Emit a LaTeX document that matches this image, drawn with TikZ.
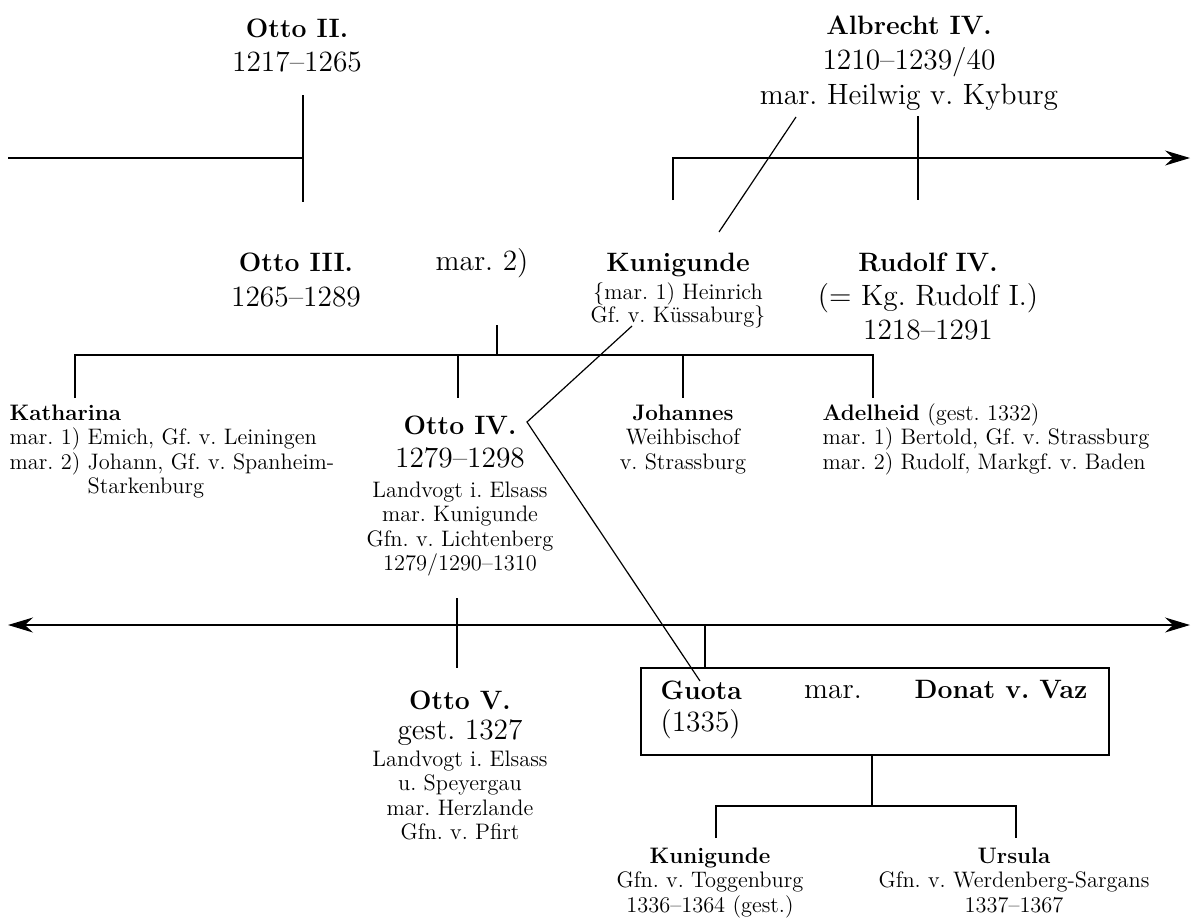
\documentclass[tikz,border=0pt]{standalone}
\usetikzlibrary{positioning}
\usetikzlibrary{arrows.meta}

\newcommand{\nmfont}{\fontsize{13.3}{16}\selectfont\bfseries}
\newcommand{\bgfont}{\fontsize{14.7}{17.5}\selectfont}
\newcommand{\smfont}{\fontsize{11.2}{12.25}\selectfont\lineskiplimit=-20pt\lineskip=0pt}

\begin{document}
\begin{tikzpicture}[x=0.5pt, y=-0.5pt, line width=0.6pt,
	txt/.style={inner sep=0pt, align=center, anchor=north, font=\smfont},
	lft/.style={txt, align=left, anchor=north west},
	pfeil/.style={-{Stealth[length=12.5pt, width=7.5pt]}},
	zweipfeil/.style={{Stealth[length=12.5pt, width=7.5pt]}-{Stealth[length=12.5pt, width=7.5pt]}}]

 % Rahmen
 \useasboundingbox (0,0) rectangle (1192,922);

 % Erste Generation
 \node[txt] (otto2) at (297,18) {{\nmfont Otto II.}\\[4.75pt]{\bgfont 1217--1265}};
 \node[txt] (albrecht) at (909,15) {{\nmfont Albrecht IV.}\\[5.25pt]{\bgfont 1210--1239/40}\\[5.25pt]{\bgfont mar.\ Heilwig v.\ Kyburg}};

 % Zweite Generation
 \node[txt] (otto3) at (296,252) {{\nmfont Otto III.}\\[5.25pt]{\bgfont 1265--1289}};
 \node[txt, anchor=base] (mar2) at (482,270) {\bgfont mar.\ 2)};
 \node[txt] (kunig) at (678,252) {{\nmfont Kunigunde}\\[1.75pt]\{mar.\ 1) Heinrich\\[-0.75pt]Gf.\ v.\ Küssaburg\}};
 \node[txt] (rudolf) at (928,252) {{\nmfont Rudolf IV.}\\[4.75pt]{\bgfont (= Kg.\ Rudolf I.)}\\[4.75pt]{\bgfont 1218--1291}};

 % Kinder
 \node[lft] (kath) at (9,404) {{\bfseries Katharina}\\mar.\ 1) Emich, Gf.\ v.\ Leiningen\\mar.\ 2) Johann, Gf.\ v.\ Spanheim-\\\phantom{mar.\ 2) }Starkenburg};
 \node[txt] (otto4) at (460,415) {{\nmfont Otto IV.}\\[4.25pt]{\bgfont 1279--1298}\\[2.75pt]Landvogt i.\ Elsass\\mar.\ Kunigunde\\Gfn.\ v.\ Lichtenberg\\1279/1290--1310};
 \node[txt] (johannes) at (683,404) {{\bfseries Johannes}\\Weihbischof\\v.\ Strassburg};
 \node[lft] (adelheid) at (822,403) {{\bfseries Adelheid} (gest.\ 1332)\\mar.\ 1) Bertold, Gf.\ v.\ Strassburg\\mar.\ 2) Rudolf, Markgf.\ v.\ Baden};

 % Enkel
 \node[txt] (otto5) at (460,690) {{\nmfont Otto V.}\\[2.75pt]{\bgfont gest.\ 1327}\\[1.25pt]Landvogt i.\ Elsass\\u.\ Speyergau\\mar.\ Herzlande\\Gfn.\ v.\ Pfirt};
 \node[draw, inner sep=0pt, minimum width=234pt, minimum height=43.5pt] (ehe) at (875,711.5) {};
 \node[lft] (guota) at (660,680) {{\nmfont Guota}\\[3.75pt]{\bgfont (1335)}};
 \node[txt, anchor=base] (mar) at (833,698) {\bgfont mar.};
 \node[txt] (donat) at (1001,680) {\nmfont Donat v.\ Vaz};

 % Urenkel
 \node[txt] (kunig2) at (710,847) {{\bfseries Kunigunde}\\Gfn.\ v.\ Toggenburg\\1336--1364 (gest.)};
 \node[txt] (ursula) at (1014,847) {{\bfseries Ursula}\\Gfn.\ v.\ Werdenberg-Sargans\\1337--1367};

 % Punkte der Linien
 \coordinate (links) at (8,158);
 \coordinate (o2a) at (303,95);
 \coordinate (o2m) at (303,158);
 \coordinate (o2b) at (303,202);
 \coordinate (alba) at (796,117);
 \coordinate (albb) at (719,232);
 \coordinate (rua) at (918,116);
 \coordinate (rub) at (918,200);
 \coordinate (kua) at (673,200);
 \coordinate (rechts) at (1190,158);
 \coordinate (elt) at (497,325);
 \coordinate (elb) at (497,355);
 \coordinate (k1) at (75,398);
 \coordinate (k2a) at (458,355);
 \coordinate (k2) at (458,398);
 \coordinate (k3a) at (683,355);
 \coordinate (k3) at (683,398);
 \coordinate (k4a) at (873,355);
 \coordinate (k4) at (873,398);
 \coordinate (kua2) at (632,326);
 \coordinate (knick) at (527,422);
 \coordinate (guo) at (700,681);
 \coordinate (tl) at (8,625);
 \coordinate (tr) at (1190,625);
 \coordinate (o4a) at (457,598);
 \coordinate (o4b) at (457,668);
 \coordinate (ga) at (705,625);
 \coordinate (gb) at (705,668);
 \coordinate (eu) at (872,755);
 \coordinate (em) at (872,806);
 \coordinate (u1) at (716,838);
 \coordinate (u2a) at (1016,806);
 \coordinate (u2) at (1016,838);

 % Linien
 \draw (links) -- (o2m);
 \draw (o2a) -- (o2b);
 \draw (alba) -- (albb);
 \draw (rua) -- (rub);
 \draw[pfeil] (kua) |- (rechts);
 \draw (elt) -- (elb);
 \draw (k1) |- (k4a) -- (k4);
 \draw (k2a) -- (k2);
 \draw (k3a) -- (k3);
 \draw (kua2) -- (knick) -- (guo);
 \draw[zweipfeil] (tl) -- (tr);
 \draw (o4a) -- (o4b);
 \draw (ga) -- (gb);
 \draw (eu) -- (em);
 \draw (u1) |- (u2a) -- (u2);
\end{tikzpicture}
\end{document}
